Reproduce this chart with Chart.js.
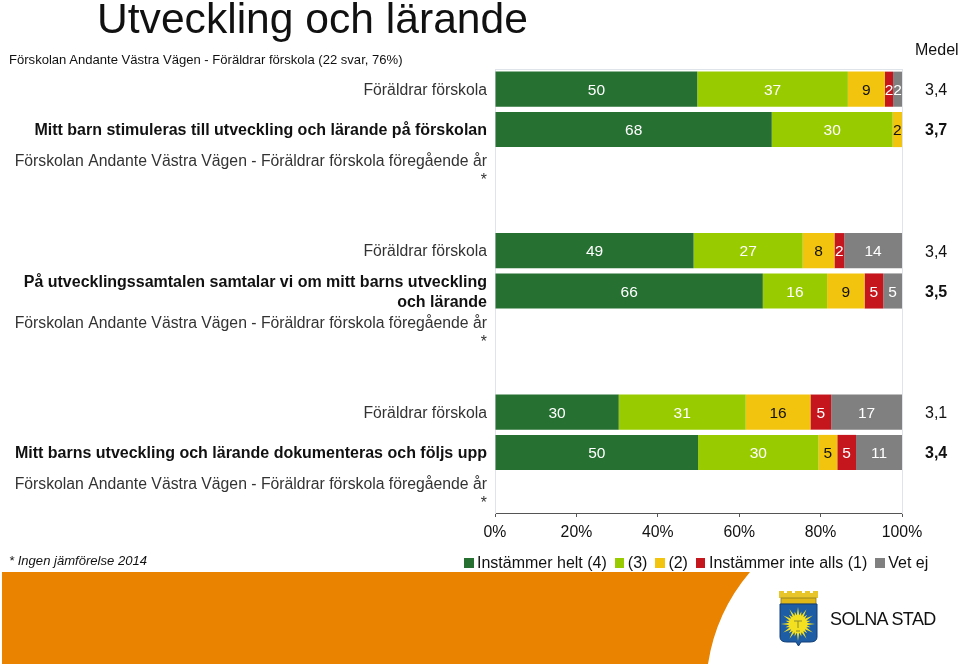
<!DOCTYPE html>
<html>
<head>
<meta charset="utf-8">
<script src="https://cdn.jsdelivr.net/npm/chart.js@4/dist/chart.umd.min.js"></script>
<style>
body{margin:0;background:#fff;font-family:"Liberation Sans",Arial,sans-serif;}
#wrap{position:relative;width:959px;height:664px;overflow:hidden;}
#wrap canvas{position:absolute;left:0;top:0;}
.txt{position:absolute;white-space:nowrap;color:#111;}
#legend{position:absolute;left:464px;top:554px;white-space:nowrap;font-size:16px;line-height:18px;color:#111;}
#legend i{display:inline-block;width:9.5px;height:10px;margin:0 3.5px 0 0;}
#legend span{margin-right:8px;}
</style>
</head>
<body>
<div id="wrap">
<svg width="959" height="664" style="position:absolute;left:0;top:0">
  <path d="M2 572 L750 572 Q716 612 708 664 L2 664 Z" fill="#e98300"/>
  <path d="M779 591h5v2h3v-2h5v2h3v-2h7v2h3v-2h5v2h3v-2h5v7h-39z" fill="#e8c62a"/>
  <rect x="781" y="598" width="35" height="6" fill="#e0b818" stroke="#8a7a20" stroke-width=".8"/>
  <path d="M780 604 L817 604 L817 637 Q817 642 810 642 L801 642 L798.5 646 L796 642 L787 642 Q780 642 780 637 Z" fill="#1c5da6" stroke="#123f78" stroke-width="1"/>
  <circle cx="798" cy="624" r="9" fill="#f5e020"/>
  <path id="rays" fill="#f5e020"/>
  <path d="M794 621h8M798 621v7M796 631h4" stroke="#8a8a30" stroke-width="1" fill="none"/>
</svg>
<canvas id="chart" width="959" height="664"></canvas>
<div class="txt" style="left:97px;top:-6px;font-size:42.6px;line-height:48px;">Utveckling och lärande</div>
<div class="txt" style="left:9px;top:52px;font-size:13.07px;line-height:16px;">Förskolan Andante Västra Vägen - Föräldrar förskola (22 svar, 76%)</div>
<div class="txt" style="left:915px;top:41px;font-size:16px;line-height:18px;">Medel</div>
<div class="txt" style="left:9px;top:553px;font-size:13.07px;line-height:16px;font-style:italic;">* Ingen jämförelse 2014</div>
<div class="txt" style="left:830px;top:608px;font-size:18px;line-height:22px;letter-spacing:-.6px;">SOLNA STAD</div>
<div id="legend"></div>
</div>
<script>
var prev = ['Förskolan Andante Västra Vägen - Föräldrar förskola föregående år', '*'];
var rowLabels = [
    'Föräldrar förskola',
    'Mitt barn stimuleras till utveckling och lärande på förskolan',
    prev,
    '',
    'Föräldrar förskola',
    ['På utvecklingssamtalen samtalar vi om mitt barns utveckling', 'och lärande'],
    prev,
    '',
    'Föräldrar förskola',
    'Mitt barns utveckling och lärande dokumenteras och följs upp',
    prev
];
var medel = ['3,4', '3,7', '', '', '3,4', '3,5', '', '', '3,1', '3,4', ''];
var boldRows = [1, 5, 9];

var helt     = [49.7, 68.0, null, null, 48.8, 65.8, null, null, 30.4, 49.9, null];
var tre      = [37.0, 29.7, null, null, 26.8, 15.8, null, null, 31.2, 29.6, null];
var tva      = [ 9.1,  2.3, null, null,  7.8,  9.2, null, null, 15.9,  4.6, null];
var inteAlls = [ 2.0, null, null, null,  2.4,  4.6, null, null,  5.1,  4.6, null];
var vetEj    = [ 2.2, null, null, null, 14.2,  4.6, null, null, 17.4, 11.3, null];

var seriesNames  = ['Instämmer helt (4)', '(3)', '(2)', 'Instämmer inte alls (1)', 'Vet ej'];
var seriesData   = [helt, tre, tva, inteAlls, vetEj];
var seriesColors = ['#267032', '#99cc00', '#f2c40e', '#c4161c', '#808080'];
var textColors   = ['#fff', '#fff', '#111', '#fff', '#fff'];
var xTicks = [0, 20, 40, 60, 80, 100];
var frame = '#dfe3ea';

// sun rays on the coat of arms
(function(){
    var d = '', n = 24;
    for (var i = 0; i < n; i++) {
        var a = i / n * Math.PI * 2, w = 0.16, r = i % 2 ? 13 : 17;
        d += 'M' + (798 + 8 * Math.cos(a - w)) + ' ' + (624 + 8 * Math.sin(a - w)) +
             'L' + (798 + r * Math.cos(a)) + ' ' + (624 + r * Math.sin(a)) +
             'L' + (798 + 8 * Math.cos(a + w)) + ' ' + (624 + 8 * Math.sin(a + w)) + 'Z';
    }
    document.getElementById('rays').setAttribute('d', d);
})();

// values inside the bars
var barLabels = {
    id: 'barLabels',
    afterDatasetsDraw: function(chart){
        var c = chart.ctx;
        c.save();
        c.font = '15.5px "Liberation Sans"';
        c.textAlign = 'center';
        c.textBaseline = 'middle';
        chart.data.datasets.forEach(function(ds, d){
            chart.getDatasetMeta(d).data.forEach(function(el, i){
                if (ds.data[i] == null) return;
                c.fillStyle = textColors[d];
                c.fillText(Math.round(ds.data[i]), (el.x + el.base) / 2, el.y + 1.5);
            });
        });
        c.restore();
    }
};

var chart = new Chart(document.getElementById('chart').getContext('2d'), {
    type: 'bar',
    data: {
        labels: rowLabels,
        datasets: seriesNames.map(function(name, i){
            return { label: name, data: seriesData[i], backgroundColor: seriesColors[i],
                     barPercentage: 0.87, categoryPercentage: 1, yAxisID: 'y' };
        })
    },
    options: {
        indexAxis: 'y',
        responsive: false,
        animation: false,
        layout: { padding: { top: 69 } },
        plugins: { legend: { display: false }, tooltip: { enabled: false } },
        scales: {
            x: {
                stacked: true, min: 0, max: 100,
                afterBuildTicks: function(s){ s.ticks = xTicks.map(function(v){ return { value: v }; }); },
                afterFit: function(s){ s.height = 151; },
                border: { color: '#555' },
                grid: { drawOnChartArea: false, tickColor: '#555', tickLength: 4 },
                ticks: { font: { size: 15.8, family: 'Liberation Sans' }, color: '#111', padding: 6, maxRotation: 0,
                         callback: function(v){ return v + '%'; } }
            },
            y: {
                stacked: true,
                afterFit: function(s){ s.width = 495; },
                border: { color: frame },
                grid: { drawTicks: false, color: function(ctx){ return ctx.index === 0 ? frame : 'transparent'; } },
                ticks: {
                    autoSkip: false, padding: 8, labelOffset: 1.5,
                    color: function(ctx){ return boldRows.indexOf(ctx.index) >= 0 ? '#111' : '#333'; },
                    font: function(ctx){
                        var bold = boldRows.indexOf(ctx.index) >= 0;
                        return { size: bold ? 16 : 15.78, weight: bold ? 'bold' : 'normal', family: 'Liberation Sans', lineHeight: 1.2 };
                    }
                }
            },
            y2: {
                type: 'category', labels: medel, position: 'right', offset: true,
                afterFit: function(s){ s.width = 57; },
                border: { color: frame },
                grid: { drawOnChartArea: false, drawTicks: false },
                ticks: {
                    autoSkip: false, padding: 23, labelOffset: 1.5, color: '#111',
                    font: function(ctx){
                        return { size: 16, weight: boldRows.indexOf(ctx.index) >= 0 ? 'bold' : 'normal', family: 'Liberation Sans' };
                    }
                }
            }
        }
    },
    plugins: [barLabels]
});

// legend built from the chart's datasets
var html = '';
chart.data.datasets.forEach(function(ds){
    html += '<i style="background:' + ds.backgroundColor + '"></i><span>' + ds.label + '</span>';
});
document.getElementById('legend').innerHTML = html;
</script>
</body>
</html>
